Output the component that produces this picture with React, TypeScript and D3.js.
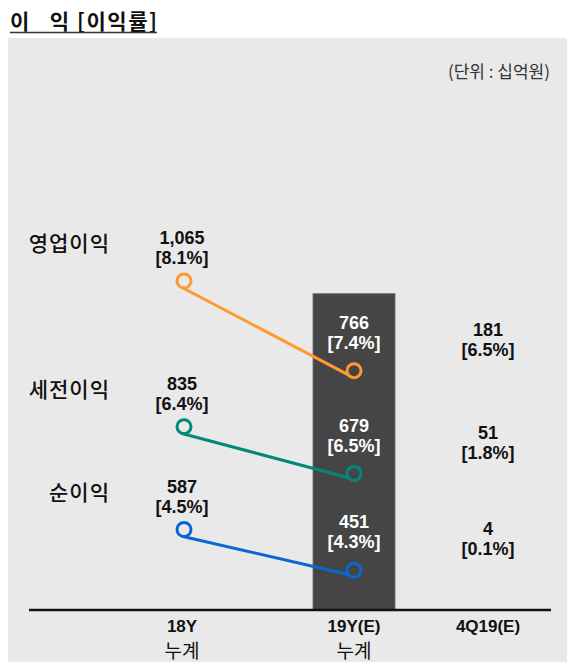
import React from 'react'
import * as d3 from 'd3'

const categories = ['18Y', '19Y(E)', '4Q19(E)']
const categorySub = ['누계', '누계', '']
const seriesNames = ['영업이익', '세전이익', '순이익']
const profit18 = [1065, 835, 587]
const profit19 = [766, 679, 451]
const profit4Q = [181, 51, 4]
const margin18 = [8.1, 6.4, 4.5]
const margin19 = [7.4, 6.5, 4.3]
const margin4Q = [6.5, 1.8, 0.1]

const seriesColors = ['#FF9A2E', '#00897B', '#0A66D4']

const W = 574
const H = 669
const panel = { x: 8, y: 38, w: 559, h: 624 }
const axisY = 610
const numFont = '"Liberation Sans", Arial, sans-serif'
const krFont = '"Noto Sans CJK KR", "Noto Sans", sans-serif'

// column centres (uneven spacing, as in the original slide)
const x = d3.scaleOrdinal<string, number>().domain(categories).range([182, 354, 488])
// vertical drop of a row between 18Y and 19Y
const drop = d3.scaleLinear().domain([0, 300]).range([0, 90])
const firstRowY = 281
const rowGap = 56
const r = 7

type Row = { name: string; color: string; y18: number; y19: number; i: number }
const rows: Row[] = []
seriesNames.forEach((name, i) => {
    const y18 = i === 0 ? firstRowY : rows[i - 1].y19 + rowGap
    const y19 = y18 + drop(profit18[i] - profit19[i])
    rows.push({ name, color: seriesColors[i], y18, y19, i })
})

const fmt = d3.format(',')
const pct = (m: number) => `[${m.toFixed(1)}%]`

function ValueLabel({ cx, y, value, margin, fill }: { cx: number; y: number; value: number; margin: number; fill: string }) {
    return (
        <g fontFamily={numFont} fontWeight="bold" fontSize={18} fill={fill} textAnchor="middle">
            <text x={cx} y={y}>{fmt(value)}</text>
            <text x={cx} y={y + 20}>{pct(margin)}</text>
        </g>
    )
}

export default function App() {
    const bx = x('19Y(E)')
    const barW = 82
    const barTop = rows[0].y19 - 42 - 35

    return (
        <svg width={W} height={H} viewBox={`0 0 ${W} ${H}`} style={{ position: 'absolute', left: 0, top: 0 }}>
            <rect width={W} height={H} fill="#ffffff" />
            {/* title */}
            <text x={10} y={29} fontFamily={krFont} fontWeight="bold" fontSize={21} fill="#111"
                textLength={147} lengthAdjust="spacing" style={{ whiteSpace: 'pre' }}>
                {'이   익 [이익률]'}
            </text>
            <line x1={10} x2={157} y1={32.5} y2={32.5} stroke="#333" strokeWidth={1.6} />

            <rect x={panel.x} y={panel.y} width={panel.w} height={panel.h} fill="#E9E9E9" />
            <text x={550} y={78} textAnchor="end" fontFamily={krFont} fontSize={17} fill="#333">(단위 : 십억원)</text>

            {/* highlighted 19Y column */}
            <rect x={bx - barW / 2} y={barTop} width={barW} height={axisY - barTop} fill="#454545" stroke="#6a6a6a" strokeWidth={0.8} />

            {/* axis */}
            <line x1={29} x2={551} y1={axisY} y2={axisY} stroke="#111" strokeWidth={2.6} />
            {categories.map((c, i) => (
                <g key={c} textAnchor="middle">
                    <text x={x(c)} y={632} fontFamily={numFont} fontWeight="bold" fontSize={17} fill="#111">{c}</text>
                    {categorySub[i] && (
                        <text x={x(c)} y={658} fontFamily={krFont} fontSize={19} fill="#111">{categorySub[i]}</text>
                    )}
                </g>
            ))}

            {rows.map(row => {
                const x18 = x('18Y') + 2
                const x19 = x('19Y(E)')
                return (
                    <g key={row.name}>
                        <text x={110} y={row.y18 - 30} textAnchor="end" fontFamily={krFont} fontWeight={500} fontSize={21}
                            fill="#111" letterSpacing={1}>{row.name}</text>
                        <line x1={x18 - 1} y1={row.y18 + r} x2={x19 - r * 0.8} y2={row.y19 + r * 0.6}
                            stroke={row.color} strokeWidth={3} strokeLinecap="round" />
                        <circle cx={x18} cy={row.y18} r={r} fill="none" stroke={row.color} strokeWidth={3} />
                        <circle cx={x19} cy={row.y19} r={r} fill="none" stroke={row.color} strokeWidth={3} />
                        <ValueLabel cx={x('18Y')} y={row.y18 - 37} value={profit18[row.i]} margin={margin18[row.i]} fill="#111" />
                        <ValueLabel cx={x19} y={row.y19 - 42} value={profit19[row.i]} margin={margin19[row.i]} fill="#ffffff" />
                        <ValueLabel cx={x('4Q19(E)')} y={row.y19 - 35} value={profit4Q[row.i]} margin={margin4Q[row.i]} fill="#111" />
                    </g>
                )
            })}
        </svg>
    )
}
